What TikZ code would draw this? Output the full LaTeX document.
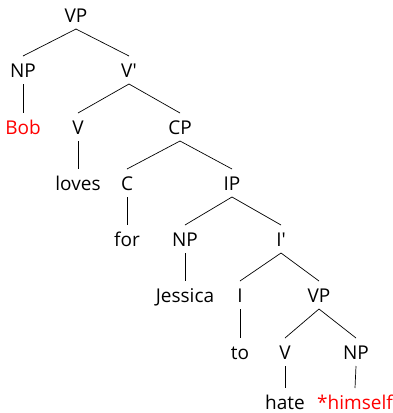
\documentclass[tikz,border=0pt]{standalone}
\usepackage{fontspec}
\usepackage{xcolor}
\setmainfont{Open Sans}

\begin{document}
\begin{tikzpicture}[x=1pt,y=1pt,
  every node/.style={inner sep=0pt,outer sep=0pt,text height=14pt,text depth=0pt,font=\fontsize{19}{22}\selectfont},
  bad/.style={text=red},
  branch/.style={line width=0.7pt}]
\useasboundingbox (0,0) rectangle (392,-413);
% level 0
\node (vp) at (76,-15) {VP};
% level 1
\node (np) at (23,-70) {NP};
\node (vbar) at (129,-70) {V\textquotesingle};
% level 2
\node[bad] (bob) at (23,-127) {Bob};
\node (v) at (78,-127) {V};
\node (cp) at (180,-127) {CP};
% level 3
\node (loves) at (78,-183) {loves};
\node (c) at (127,-183) {C};
\node (ip) at (232,-183) {IP};
% level 4
\node (for) at (127,-239) {for};
\node (npj) at (185,-239) {NP};
\node (ibar) at (281,-239) {I\textquotesingle};
% level 5
\node (jessica) at (185,-295) {Jessica};
\node (i) at (240,-295) {I};
\node (vpl) at (319,-295) {VP};
% level 6
\node (to) at (240,-352) {to};
\node (vl) at (285,-352) {V};
\node (nph) at (356,-352) {NP};
% level 7
\node (hate) at (285,-402) {hate};
\node[bad] (himself) at (355,-402) {*himself};

\draw[branch] ([yshift=-7pt]vp.south) -- ([yshift=7pt]np.north);
\draw[branch] ([yshift=-7pt]vp.south) -- ([yshift=7pt]vbar.north);
\draw[branch] ([yshift=-7pt]np.south) -- ([yshift=7pt]bob.north);
\draw[branch] ([yshift=-7pt]vbar.south) -- ([yshift=7pt]v.north);
\draw[branch] ([yshift=-7pt]vbar.south) -- ([yshift=7pt]cp.north);
\draw[branch] ([yshift=-7pt]v.south) -- ([yshift=7pt]loves.north);
\draw[branch] ([yshift=-7pt]cp.south) -- ([yshift=7pt]c.north);
\draw[branch] ([yshift=-7pt]cp.south) -- ([yshift=7pt]ip.north);
\draw[branch] ([yshift=-7pt]c.south) -- ([yshift=7pt]for.north);
\draw[branch] ([yshift=-7pt]ip.south) -- ([yshift=7pt]npj.north);
\draw[branch] ([yshift=-7pt]ip.south) -- ([yshift=7pt]ibar.north);
\draw[branch] ([yshift=-7pt]npj.south) -- ([yshift=7pt]jessica.north);
\draw[branch] ([yshift=-7pt]ibar.south) -- ([yshift=7pt]i.north);
\draw[branch] ([yshift=-7pt]ibar.south) -- ([yshift=7pt]vpl.north);
\draw[branch] ([yshift=-7pt]i.south) -- ([yshift=7pt]to.north);
\draw[branch] ([yshift=-7pt]vpl.south) -- ([yshift=7pt]vl.north);
\draw[branch] ([yshift=-7pt]vpl.south) -- ([yshift=7pt]nph.north);
\draw[branch] ([yshift=-7pt]vl.south) -- ([yshift=7pt]hate.north);
\draw[branch] ([yshift=-7pt]nph.south) -- ([yshift=7pt]himself.north);
\end{tikzpicture}
\end{document}
